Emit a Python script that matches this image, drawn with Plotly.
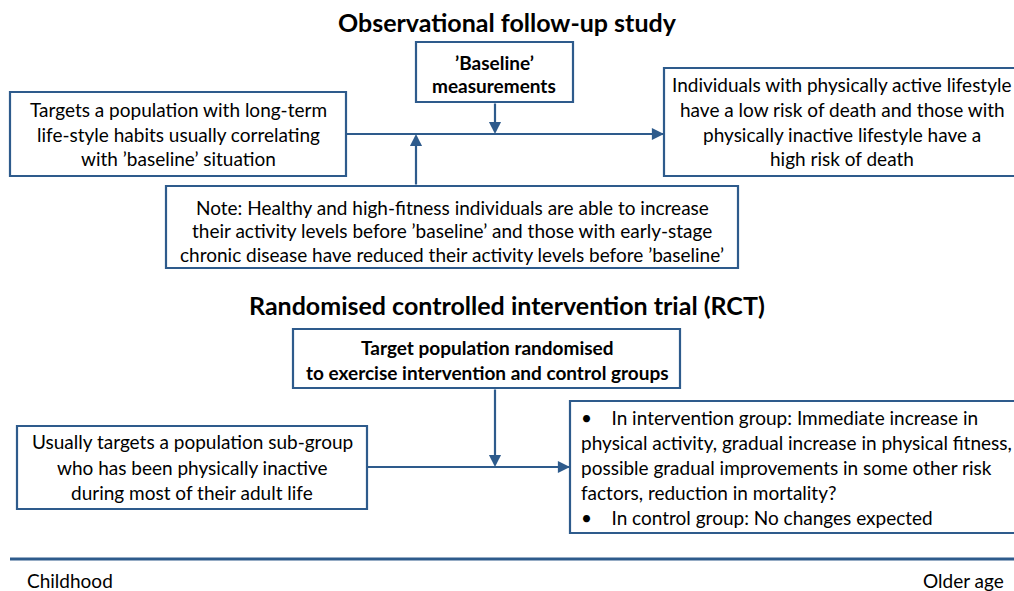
import plotly.graph_objects as go

# ---- content ----
section_titles = ["Observational follow-up study", "Randomised controlled intervention trial (RCT)"]
obs_baseline = ["\u2019Baseline\u2019", "measurements"]
obs_left = ["Targets a population with long-term", "life-style habits usually correlating", "with \u2019baseline\u2019 situation"]
obs_right = ["Individuals with physically active lifestyle", "have a low risk of death and those with",
             "physically inactive lifestyle have a", "high risk of death"]
obs_note = ["Note: Healthy and high-fitness individuals are able to increase",
            "their activity levels before \u2019baseline\u2019 and those with early-stage",
            "chronic disease have reduced their activity levels before \u2019baseline\u2019"]
rct_top = ["Target population randomised", "to exercise intervention and control groups"]
rct_left = ["Usually targets a population sub-group", "who has been physically inactive", "during most of their adult life"]
rct_right = ["\u2022    In intervention group: Immediate increase in",
             "physical activity, gradual increase in physical fitness,",
             "possible gradual improvements in some other risk",
             "factors, reduction in mortality?",
             "\u2022    In control group: No changes expected"]
axis_labels = ["Childhood", "Older age"]

# ---- styling ----
W, H = 1014, 591
BLUE = "#2E5B8C"
FONT = "Lato"
FS = 19

fig = go.Figure()
shapes = []
annotations = []

def box(x0, y0, x1, y1):
    shapes.append(dict(type="rect", x0=x0, y0=y0, x1=x1, y1=y1, xref="x", yref="y",
                       line=dict(color=BLUE, width=2.2), fillcolor="white", layer="above"))

def line(x0, y0, x1, y1, w=2.2):
    shapes.append(dict(type="line", x0=x0, y0=y0, x1=x1, y1=y1, xref="x", yref="y",
                       line=dict(color=BLUE, width=w), layer="below"))

def arrow(x0, y0, x1, y1):
    annotations.append(dict(x=x1, y=y1, ax=x0, ay=y0, xref="x", yref="y", axref="x", ayref="y",
                            showarrow=True, arrowhead=2, arrowsize=1.1, arrowwidth=2.2,
                            arrowcolor=BLUE, text=""))

def text_lines(lines, x, ys, bold=False, anchor="center", size=FS):
    for t, y in zip(lines, ys):
        annotations.append(dict(x=x, y=y, xref="x", yref="y", text=("<b>%s</b>" % t) if bold else t,
                                showarrow=False, xanchor=anchor, yanchor="middle",
                                font=dict(family=FONT, size=size, color="black")))

# connectors
line(346, 134, 664, 134)
arrow(600, 134, 664, 134)
arrow(495, 102, 495, 134)
arrow(416, 186, 416, 134)
line(367, 467, 570, 467)
arrow(520, 467, 570, 467)
arrow(495, 388, 495, 467)

# boxes
box(416, 42, 573, 102)
box(10, 92, 346, 176)
box(664, 68, 1024, 176)
box(166, 186, 738, 268)
box(293, 329, 680, 388)
box(17, 426, 367, 509)
box(570, 401, 1024, 533)

# titles
text_lines([section_titles[0]], 507, [22], bold=True, size=25)
text_lines([section_titles[1]], 507, [305], bold=True, size=25)

text_lines(obs_baseline, 494, [62, 85], bold=True)
text_lines(obs_left, 178, [109, 134, 158])
text_lines(obs_right, 842, [84, 109, 134, 158])
text_lines(obs_note, 452, [207, 230, 254])
text_lines(rct_top, 487, [347, 372], bold=True)
text_lines(rct_left, 192, [441, 467, 492])
text_lines(rct_right, 579, [417, 442, 467, 492, 517], anchor="left")

# bottom age axis
shapes.append(dict(type="line", x0=10, y0=559, x1=1030, y1=559, xref="x", yref="y",
                   line=dict(color=BLUE, width=3)))
annotations.append(dict(x=25, y=580, xref="x", yref="y", text=axis_labels[0], showarrow=False,
                        xanchor="left", yanchor="middle", font=dict(family=FONT, size=FS, color="black")))
annotations.append(dict(x=1006, y=580, xref="x", yref="y", text=axis_labels[1], showarrow=False,
                        xanchor="right", yanchor="middle", font=dict(family=FONT, size=FS, color="black")))

fig.update_layout(
    width=W, height=H, margin=dict(l=0, r=0, t=0, b=0),
    paper_bgcolor="white", plot_bgcolor="white",
    xaxis=dict(range=[0, W], visible=False, fixedrange=True),
    yaxis=dict(range=[H, 0], visible=False, fixedrange=True),
    shapes=shapes, annotations=annotations, showlegend=False,
)
fig.write_html("out.html", config={"displayModeBar": False},
               post_script="document.body.style.margin='0';document.body.style.overflow='hidden';")
